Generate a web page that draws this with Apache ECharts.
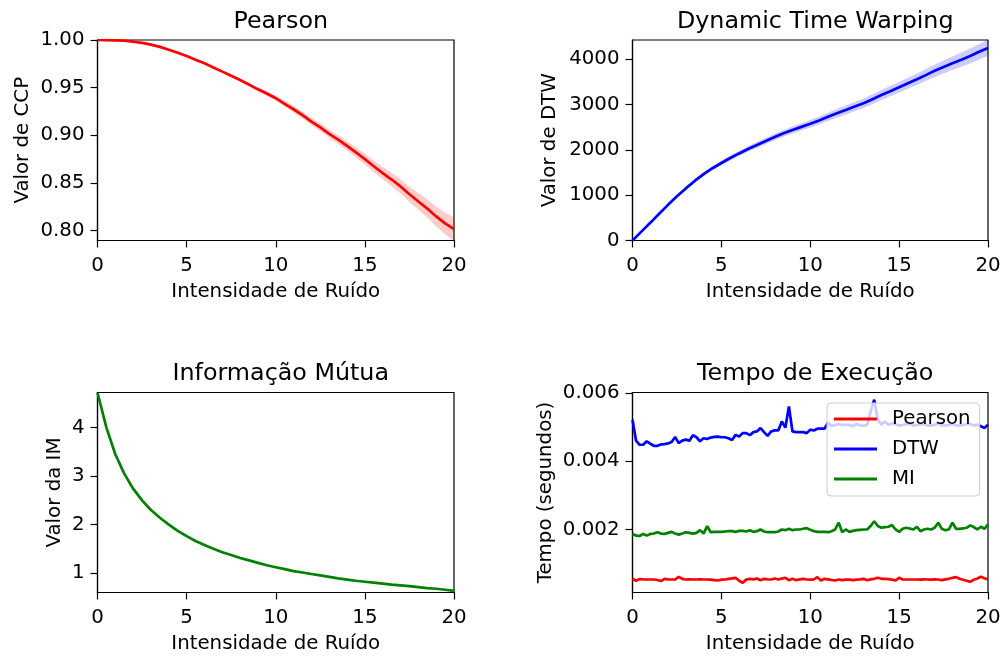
<!DOCTYPE html>
<html>
<head>
<meta charset="utf-8">
<script src="https://cdn.jsdelivr.net/npm/echarts@6/dist/echarts.min.js"></script>
<style>
  html, body { margin: 0; padding: 0; background: #fff; }
  #chart { width: 1006px; height: 657px; }
</style>
</head>
<body>
<div id="chart"></div>
<script>
// Noise intensity grids (0..20)
function noiseGrid(step) {
  const n = Math.round(20 / step);
  return Array.from({ length: n + 1 }, (_, i) => +(i * step).toFixed(2));
}
const noiseCoarse = noiseGrid(0.5);   // 41 points
const noiseFine = noiseGrid(0.2);     // 101 points

// Pearson correlation (mean and std over repetitions)
const pearsonMean = [1.0000, 0.9999, 0.9997, 0.9992, 0.9982, 0.9970, 0.9952, 0.9928, 0.9898, 0.9866,
  0.9832, 0.9793, 0.9755, 0.9712, 0.9668, 0.9625, 0.9580, 0.9532, 0.9482, 0.9438,
  0.9389, 0.9330, 0.9273, 0.9212, 0.9144, 0.9082, 0.9015, 0.8955, 0.8889, 0.8820,
  0.8749, 0.8675, 0.8602, 0.8535, 0.8463, 0.8380, 0.8305, 0.8230, 0.8148, 0.8075, 0.8015];
const pearsonStd = [0, 0.0001, 0.0001, 0.0002, 0.0002, 0.0003, 0.0003, 0.0004, 0.0005, 0.0006,
  0.0007, 0.0008, 0.0009, 0.0011, 0.0013, 0.0015, 0.0017, 0.0019, 0.0022, 0.0025,
  0.0028, 0.0031, 0.0034, 0.0037, 0.0040, 0.0042, 0.0044, 0.0046, 0.0049, 0.0053,
  0.0056, 0.0060, 0.0065, 0.0070, 0.0075, 0.0080, 0.0088, 0.0096, 0.0105, 0.0115, 0.0125];

// Dynamic Time Warping distance
const dtwMean = [0, 195, 390, 590, 787, 975, 1150, 1315, 1465, 1595,
  1710, 1820, 1922, 2018, 2108, 2198, 2285, 2365, 2440, 2508,
  2575, 2650, 2730, 2806, 2880, 2955, 3030, 3118, 3210, 3295,
  3382, 3470, 3559, 3650, 3745, 3830, 3911, 3990, 4072, 4165, 4250];
const dtwStd = [0, 8, 15, 20, 25, 30, 34, 38, 42, 46,
  50, 54, 58, 61, 64, 67, 70, 73, 76, 80,
  84, 88, 92, 95, 98, 101, 104, 107, 110, 114,
  118, 122, 127, 132, 137, 143, 150, 157, 164, 172, 180];

// Mutual information
const miMean = [4.72, 4.00, 3.45, 3.05, 2.74, 2.50, 2.30, 2.14, 2.00, 1.87,
  1.76, 1.66, 1.58, 1.50, 1.43, 1.37, 1.31, 1.26, 1.21, 1.16,
  1.12, 1.08, 1.04, 1.01, 0.98, 0.95, 0.92, 0.89, 0.865, 0.84,
  0.82, 0.80, 0.78, 0.76, 0.745, 0.73, 0.71, 0.69, 0.675, 0.655, 0.63];
const miStd = [0.004, 0.010, 0.012, 0.012, 0.012, 0.013, 0.013, 0.013, 0.013, 0.013,
  0.013, 0.013, 0.013, 0.013, 0.013, 0.013, 0.013, 0.013, 0.013, 0.013,
  0.013, 0.013, 0.013, 0.013, 0.013, 0.013, 0.013, 0.013, 0.013, 0.013,
  0.013, 0.013, 0.013, 0.013, 0.013, 0.013, 0.013, 0.013, 0.013, 0.013, 0.013];

// Execution time per metric (seconds)
const timePearson = [0.000556, 0.000500, 0.000550, 0.000540, 0.000536, 0.000536, 0.000536, 0.000520, 0.000490, 0.000556,
  0.000540, 0.000536, 0.000536, 0.000614, 0.000556, 0.000536, 0.000540, 0.000536, 0.000536, 0.000540,
  0.000536, 0.000536, 0.000530, 0.000516, 0.000507, 0.000530, 0.000536, 0.000556, 0.000570, 0.000585,
  0.000500, 0.000439, 0.000536, 0.000556, 0.000540, 0.000565, 0.000516, 0.000556, 0.000540, 0.000536,
  0.000565, 0.000536, 0.000560, 0.000585, 0.000516, 0.000556, 0.000516, 0.000540, 0.000556, 0.000536,
  0.000530, 0.000540, 0.000605, 0.000507, 0.000556, 0.000540, 0.000520, 0.000507, 0.000536, 0.000516,
  0.000530, 0.000530, 0.000516, 0.000530, 0.000540, 0.000556, 0.000516, 0.000540, 0.000556, 0.000585,
  0.000556, 0.000556, 0.000545, 0.000530, 0.000507, 0.000585, 0.000536, 0.000536, 0.000536, 0.000536,
  0.000536, 0.000530, 0.000540, 0.000536, 0.000530, 0.000540, 0.000536, 0.000516, 0.000540, 0.000556,
  0.000585, 0.000605, 0.000556, 0.000530, 0.000500, 0.000468, 0.000530, 0.000565, 0.000614, 0.000575,
  0.000536];
const timeDTW = [0.00521, 0.00460, 0.00448, 0.00448, 0.00458, 0.00451, 0.00445, 0.00445, 0.00449, 0.00450,
  0.00452, 0.00456, 0.00471, 0.00453, 0.00460, 0.00463, 0.00460, 0.00476, 0.00470, 0.00458,
  0.00467, 0.00465, 0.00469, 0.00471, 0.00472, 0.00470, 0.00470, 0.00467, 0.00462, 0.00477,
  0.00472, 0.00482, 0.00482, 0.00476, 0.00485, 0.00487, 0.00497, 0.00485, 0.00474, 0.00487,
  0.00490, 0.00490, 0.00516, 0.00498, 0.00560, 0.00487, 0.00485, 0.00485, 0.00485, 0.00482,
  0.00492, 0.00490, 0.00495, 0.00495, 0.00495, 0.00513, 0.00503, 0.00506, 0.00509, 0.00506,
  0.00506, 0.00506, 0.00502, 0.00509, 0.00504, 0.00504, 0.00506, 0.00546, 0.00580, 0.00521,
  0.00507, 0.00516, 0.00506, 0.00511, 0.00508, 0.00504, 0.00506, 0.00508, 0.00508, 0.00504,
  0.00506, 0.00507, 0.00509, 0.00504, 0.00505, 0.00506, 0.00511, 0.00504, 0.00505, 0.00506,
  0.00509, 0.00505, 0.00504, 0.00506, 0.00508, 0.00509, 0.00504, 0.00507, 0.00502, 0.00497,
  0.00507];
const timeMI = [0.00187, 0.00182, 0.00181, 0.00187, 0.00182, 0.00187, 0.00188, 0.00192, 0.00188, 0.00187,
  0.00190, 0.00193, 0.00188, 0.00185, 0.00188, 0.00192, 0.00190, 0.00188, 0.00190, 0.00198,
  0.00188, 0.00210, 0.00192, 0.00193, 0.00193, 0.00193, 0.00194, 0.00195, 0.00195, 0.00193,
  0.00196, 0.00196, 0.00194, 0.00198, 0.00193, 0.00195, 0.00200, 0.00194, 0.00192, 0.00192,
  0.00192, 0.00194, 0.00200, 0.00198, 0.00202, 0.00198, 0.00200, 0.00200, 0.00202, 0.00204,
  0.00199, 0.00195, 0.00193, 0.00193, 0.00193, 0.00192, 0.00195, 0.00200, 0.00220, 0.00192,
  0.00200, 0.00193, 0.00196, 0.00198, 0.00199, 0.00200, 0.00200, 0.00210, 0.00224, 0.00210,
  0.00205, 0.00207, 0.00208, 0.00213, 0.00200, 0.00193, 0.00202, 0.00205, 0.00203, 0.00200,
  0.00208, 0.00195, 0.00200, 0.00202, 0.00200, 0.00205, 0.00220, 0.00202, 0.00198, 0.00200,
  0.00220, 0.00202, 0.00202, 0.00203, 0.00205, 0.00212, 0.00207, 0.00200, 0.00208, 0.00202,
  0.00215];

// Tick positions
const xTicks = [0, 5, 10, 15, 20];
const pearsonTicks = [0.80, 0.85, 0.90, 0.95, 1.00];
const dtwTicks = [0, 1000, 2000, 3000, 4000];
const miTicks = [1, 2, 3, 4];
const timeTicks = [0.002, 0.004, 0.006];

const FONT = 'DejaVu Sans';
const TICK_SIZE = 19.8;
const TITLE_SIZE = 23.8;
const LW = 2.7;

const pairs = (xs, ys) => xs.map((x, i) => [x, ys[i]]);

const grids = [
  { left: 97.5, top: 40, width: 356.5, height: 200.5 },
  { left: 632.5, top: 40, width: 355.5, height: 200.5 },
  { left: 97.5, top: 392.5, width: 356.5, height: 200 },
  { left: 632.5, top: 392.5, width: 355.5, height: 200 }
].map(g => Object.assign(g, { show: true, borderColor: '#000', borderWidth: 1.2, backgroundColor: 'transparent' }));

function xAxis(gi) {
  return {
    type: 'value', gridIndex: gi, min: 0, max: 20, interval: 5,
    name: 'Intensidade de Ruído', nameLocation: 'middle', nameGap: 41,
    nameTextStyle: { fontFamily: FONT, fontSize: TICK_SIZE, color: '#000' },
    axisLine: { show: true, onZero: false, lineStyle: { color: '#000', width: 1.2 } },
    axisTick: { show: true, length: 7, customValues: xTicks, lineStyle: { color: '#000', width: 1.2 } },
    axisLabel: { fontFamily: FONT, fontSize: TICK_SIZE, color: '#000', margin: 15, customValues: xTicks },
    splitLine: { show: false }
  };
}

function yAxis(gi, name, min, max, ticks, fmt, gap) {
  return {
    type: 'value', gridIndex: gi, min: min, max: max,
    name: name, nameLocation: 'middle', nameGap: gap, nameRotate: 90,
    nameTextStyle: { fontFamily: FONT, fontSize: TICK_SIZE, color: '#000' },
    axisLine: { show: true, onZero: false, lineStyle: { color: '#000', width: 1.2 } },
    axisTick: { show: true, length: 7, customValues: ticks, lineStyle: { color: '#000', width: 1.2 } },
    axisLabel: { fontFamily: FONT, fontSize: TICK_SIZE, color: '#000', margin: 13, customValues: ticks, formatter: fmt },
    splitLine: { show: false }
  };
}

// Shaded mean +/- std band: one polygon whose vertices go through the axis scales
function band(gi, key, xs, mean, std, fill) {
  const rows = xs.map((x, i) => [x, mean[i] - std[i], mean[i] + std[i]]);
  return {
    name: key + '-band', type: 'custom', xAxisIndex: gi, yAxisIndex: gi, silent: true, clip: true, z: 1,
    data: [rows[0]],
    encode: { x: 0, y: [1, 2] },
    renderItem: function (params, api) {
      const upper = rows.map(r => api.coord([r[0], r[2]]));
      const lower = rows.slice().reverse().map(r => api.coord([r[0], r[1]]));
      return { type: 'polygon', shape: { points: upper.concat(lower) }, style: { fill: fill, stroke: null } };
    }
  };
}

function meanLine(gi, key, xs, mean, color) {
  return { name: key, type: 'line', xAxisIndex: gi, yAxisIndex: gi, data: pairs(xs, mean), z: 3,
    showSymbol: false, lineStyle: { color: color, width: LW }, itemStyle: { color: color } };
}

function timeLine(name, ys, color) {
  return { name: name, type: 'line', xAxisIndex: 3, yAxisIndex: 3, data: pairs(noiseFine, ys),
    showSymbol: false, lineStyle: { color: color, width: LW }, itemStyle: { color: color } };
}

const titleBase = { textStyle: { fontFamily: FONT, fontSize: TITLE_SIZE, fontWeight: 'normal', color: '#000' }, textAlign: 'center' };

const option = {
  animation: false,
  backgroundColor: '#fff',
  title: [
    Object.assign({ text: 'Pearson', left: 275.75, top: 4.5 }, titleBase),
    Object.assign({ text: 'Dynamic Time Warping', left: 810.25, top: 4.5 }, titleBase),
    Object.assign({ text: 'Informação Mútua', left: 275.75, top: 357 }, titleBase),
    Object.assign({ text: 'Tempo de Execução', left: 810.25, top: 357 }, titleBase)
  ],
  grid: grids,
  xAxis: [xAxis(0), xAxis(1), xAxis(2), xAxis(3)],
  yAxis: [
    yAxis(0, 'Valor de CCP', 0.7895, 1.0, pearsonTicks, v => v.toFixed(2), 65),
    yAxis(1, 'Valor de DTW', 0, 4425, dtwTicks, v => String(v), 73),
    yAxis(2, 'Valor da IM', 0.598, 4.725, miTicks, v => String(v), 33),
    yAxis(3, 'Tempo (segundos)', 0.000155, 0.00601, timeTicks, v => v.toFixed(3), 77)
  ],
  legend: {
    data: ['Pearson', 'DTW', 'MI'],
    orient: 'vertical', left: 827, top: 403,
    icon: 'rect', itemWidth: 43, itemHeight: 3, itemGap: 10,
    padding: [6, 9, 7, 7],
    backgroundColor: 'rgba(255,255,255,0.8)', borderColor: '#cccccc', borderWidth: 1, borderRadius: 4,
    textStyle: { fontFamily: FONT, fontSize: TICK_SIZE, color: '#000', lineHeight: 20, padding: [0, 0, 0, 10] },
    selectedMode: false
  },
  series: [
    band(0, 'CCP', noiseCoarse, pearsonMean, pearsonStd, 'rgba(255,0,0,0.2)'),
    meanLine(0, 'CCP', noiseCoarse, pearsonMean, '#ff0000'),
    band(1, 'Distância DTW', noiseCoarse, dtwMean, dtwStd, 'rgba(0,0,255,0.2)'),
    meanLine(1, 'Distância DTW', noiseCoarse, dtwMean, '#0000ff'),
    band(2, 'IM', noiseCoarse, miMean, miStd, 'rgba(0,128,0,0.2)'),
    meanLine(2, 'IM', noiseCoarse, miMean, '#008000'),
    timeLine('Pearson', timePearson, '#ff0000'),
    timeLine('DTW', timeDTW, '#0000ff'),
    timeLine('MI', timeMI, '#008000')
  ]
};

const chart = echarts.init(document.getElementById('chart'), null, { renderer: 'canvas' });
chart.setOption(option);
</script>
</body>
</html>
